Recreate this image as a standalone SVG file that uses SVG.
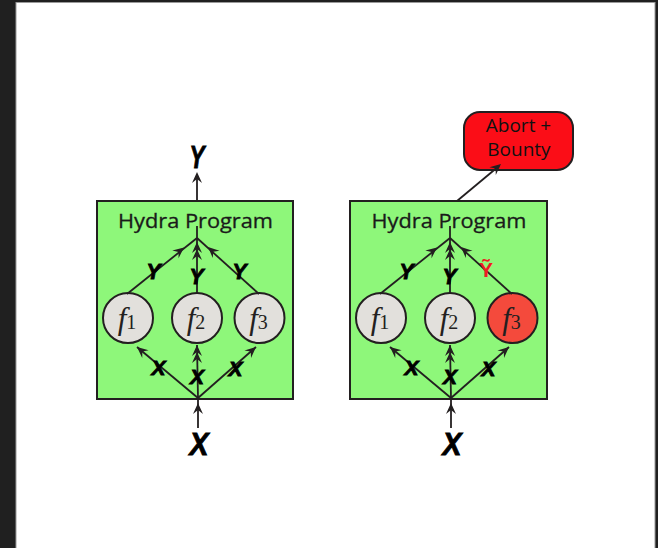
<svg xmlns="http://www.w3.org/2000/svg" width="658" height="548" viewBox="0 0 658 548">
<style>
.box{fill:#8ef77a;stroke:#231f20;stroke-width:2}
.fn{fill:#e2e0dc;stroke:#231f20;stroke-width:2}
.bad{fill:#f44a3c;stroke:#231f20;stroke-width:2}
.ln{stroke:#231f20;stroke-width:1.8;fill:none}
.title{font-family:"Open Sans","Liberation Sans",sans-serif;font-size:20px;fill:#1a1a1a;text-anchor:middle;stroke:#1a1a1a;stroke-width:0.3}
.lab{font-family:"Liberation Sans",Arial,sans-serif;font-weight:bold;font-style:italic;fill:#000;stroke:#000;stroke-width:0.9;text-anchor:middle}
.fl{font-family:"Liberation Serif","Times New Roman",serif;fill:#231f20;text-anchor:middle}
.ab{font-family:"Open Sans","Liberation Sans",sans-serif;font-size:19px;fill:#111;text-anchor:middle}
</style>
<defs>
<path id="ah" d="M0,0 L-11,-5 L-7,0 L-11,5 Z" fill="#231f20"/>
</defs>
<rect x="0" y="0" width="658" height="548" fill="#202020"/>
<rect x="16" y="2.5" width="639" height="546" fill="#ffffff" stroke="#9a9a9a" stroke-width="1"/>

<g id="left-program">
<rect class="box" x="97" y="201" width="196" height="198"/>
<text class="title" x="195.5" y="228" textLength="155" lengthAdjust="spacingAndGlyphs">Hydra Program</text>
</g>
<g id="left-f1"><circle class="fn" cx="128" cy="318" r="25"/><text class="fl" x="127" y="329"><tspan font-style="italic" font-size="31">f</tspan><tspan font-size="20">1</tspan></text></g>
<g id="left-f2"><circle class="fn" cx="197" cy="318" r="25"/><text class="fl" x="196" y="329"><tspan font-style="italic" font-size="31">f</tspan><tspan font-size="20">2</tspan></text></g>
<g id="left-f3"><circle class="fn" cx="259.5" cy="318" r="25"/><text class="fl" x="258.5" y="329"><tspan font-style="italic" font-size="31">f</tspan><tspan font-size="20">3</tspan></text></g>

<g id="right-program">
<rect class="box" x="350" y="201" width="197" height="198"/>
<text class="title" x="449" y="228" textLength="155" lengthAdjust="spacingAndGlyphs">Hydra Program</text>
</g>
<g id="right-f1"><circle class="fn" cx="381" cy="318" r="25"/><text class="fl" x="380" y="329"><tspan font-style="italic" font-size="31">f</tspan><tspan font-size="20">1</tspan></text></g>
<g id="right-f2"><circle class="fn" cx="450" cy="318" r="25"/><text class="fl" x="449" y="329"><tspan font-style="italic" font-size="31">f</tspan><tspan font-size="20">2</tspan></text></g>
<g id="right-f3"><circle class="bad" cx="512.5" cy="318" r="25"/><text class="fl" x="511.5" y="329"><tspan font-style="italic" font-size="31">f</tspan><tspan font-size="20">3</tspan></text></g>

<g id="abort">
<rect x="464" y="112" width="109" height="58" rx="16" ry="16" fill="#fb0d17" stroke="#231f20" stroke-width="2"/>
<text class="ab" x="518.5" y="132">Abort +</text>
<text class="ab" x="519" y="156">Bounty</text>
</g>

<g id="connectors">
<g id="left-conn">
<line class="ln" x1="197" y1="201" x2="197" y2="174"/>
<use href="#ah" transform="translate(197,172) rotate(-90)"/>
<line class="ln" x1="197" y1="226" x2="197" y2="238"/>
<line class="ln" x1="127" y1="294" x2="197" y2="238"/>
<line class="ln" x1="197" y1="294" x2="197" y2="238"/>
<line class="ln" x1="259" y1="294" x2="197" y2="238"/>
<use href="#ah" transform="translate(184,247.5) rotate(-38.7)"/>
<use href="#ah" transform="translate(208,247) rotate(-137.9)"/>
<use href="#ah" transform="translate(197,242) rotate(-90)"/>
<use href="#ah" transform="translate(197,249) rotate(-90)"/>
<line class="ln" x1="198" y1="398" x2="137" y2="347"/>
<line class="ln" x1="198" y1="398" x2="197" y2="345"/>
<line class="ln" x1="198" y1="398" x2="256" y2="347"/>
<use href="#ah" transform="translate(137,347) rotate(-140.1)"/>
<use href="#ah" transform="translate(256,347) rotate(-41.3)"/>
<use href="#ah" transform="translate(197,345) rotate(-90)"/>
<use href="#ah" transform="translate(197,352) rotate(-90)"/>
<line class="ln" x1="198" y1="428" x2="198" y2="398"/>
<use href="#ah" transform="translate(198,403) rotate(-90)"/>
</g>
<g id="right-conn">
<line class="ln" x1="457" y1="201" x2="499" y2="166"/>
<use href="#ah" transform="translate(501,164) rotate(-40)"/>
<line class="ln" x1="450" y1="226" x2="450" y2="238"/>
<line class="ln" x1="380" y1="294" x2="450" y2="238"/>
<line class="ln" x1="450" y1="294" x2="450" y2="238"/>
<line class="ln" x1="512" y1="294" x2="450" y2="238"/>
<use href="#ah" transform="translate(437,247.5) rotate(-38.7)"/>
<use href="#ah" transform="translate(461,247) rotate(-137.9)"/>
<use href="#ah" transform="translate(450,242) rotate(-90)"/>
<use href="#ah" transform="translate(450,249) rotate(-90)"/>
<line class="ln" x1="451" y1="398" x2="390" y2="347"/>
<line class="ln" x1="451" y1="398" x2="450" y2="345"/>
<line class="ln" x1="451" y1="398" x2="509" y2="347"/>
<use href="#ah" transform="translate(390,347) rotate(-140.1)"/>
<use href="#ah" transform="translate(509,347) rotate(-41.3)"/>
<use href="#ah" transform="translate(450,345) rotate(-90)"/>
<use href="#ah" transform="translate(450,352) rotate(-90)"/>
<line class="ln" x1="451" y1="428" x2="451" y2="398"/>
<use href="#ah" transform="translate(451,403) rotate(-90)"/>
</g>
</g>

<g id="labels">
<text class="lab" x="197" y="168" font-size="32" textLength="15" lengthAdjust="spacingAndGlyphs">Y</text>
<text class="lab" x="153.5" y="279" font-size="22" textLength="14" lengthAdjust="spacingAndGlyphs">Y</text>
<text class="lab" x="196.5" y="284" font-size="22" textLength="14" lengthAdjust="spacingAndGlyphs">Y</text>
<text class="lab" x="239.5" y="279" font-size="22" textLength="14" lengthAdjust="spacingAndGlyphs">Y</text>
<text class="lab" x="158.5" y="375" font-size="21" textLength="14" lengthAdjust="spacingAndGlyphs">X</text>
<text class="lab" x="197" y="384" font-size="21" textLength="14" lengthAdjust="spacingAndGlyphs">X</text>
<text class="lab" x="235.5" y="376" font-size="21" textLength="14" lengthAdjust="spacingAndGlyphs">X</text>
<text class="lab" x="199" y="455" font-size="32" textLength="19" lengthAdjust="spacingAndGlyphs">X</text>

<text class="lab" x="406.5" y="279" font-size="22" textLength="14" lengthAdjust="spacingAndGlyphs">Y</text>
<text class="lab" x="449.5" y="284" font-size="22" textLength="14" lengthAdjust="spacingAndGlyphs">Y</text>
<text x="486" y="277" font-family="Liberation Sans, Arial, sans-serif" font-weight="bold" font-size="21" fill="#ee1c24" text-anchor="middle">Ỹ</text>
<text class="lab" x="411.5" y="375" font-size="21" textLength="14" lengthAdjust="spacingAndGlyphs">X</text>
<text class="lab" x="450" y="384" font-size="21" textLength="14" lengthAdjust="spacingAndGlyphs">X</text>
<text class="lab" x="488.5" y="376" font-size="21" textLength="14" lengthAdjust="spacingAndGlyphs">X</text>
<text class="lab" x="452" y="455" font-size="32" textLength="19" lengthAdjust="spacingAndGlyphs">X</text>
</g>
</svg>
